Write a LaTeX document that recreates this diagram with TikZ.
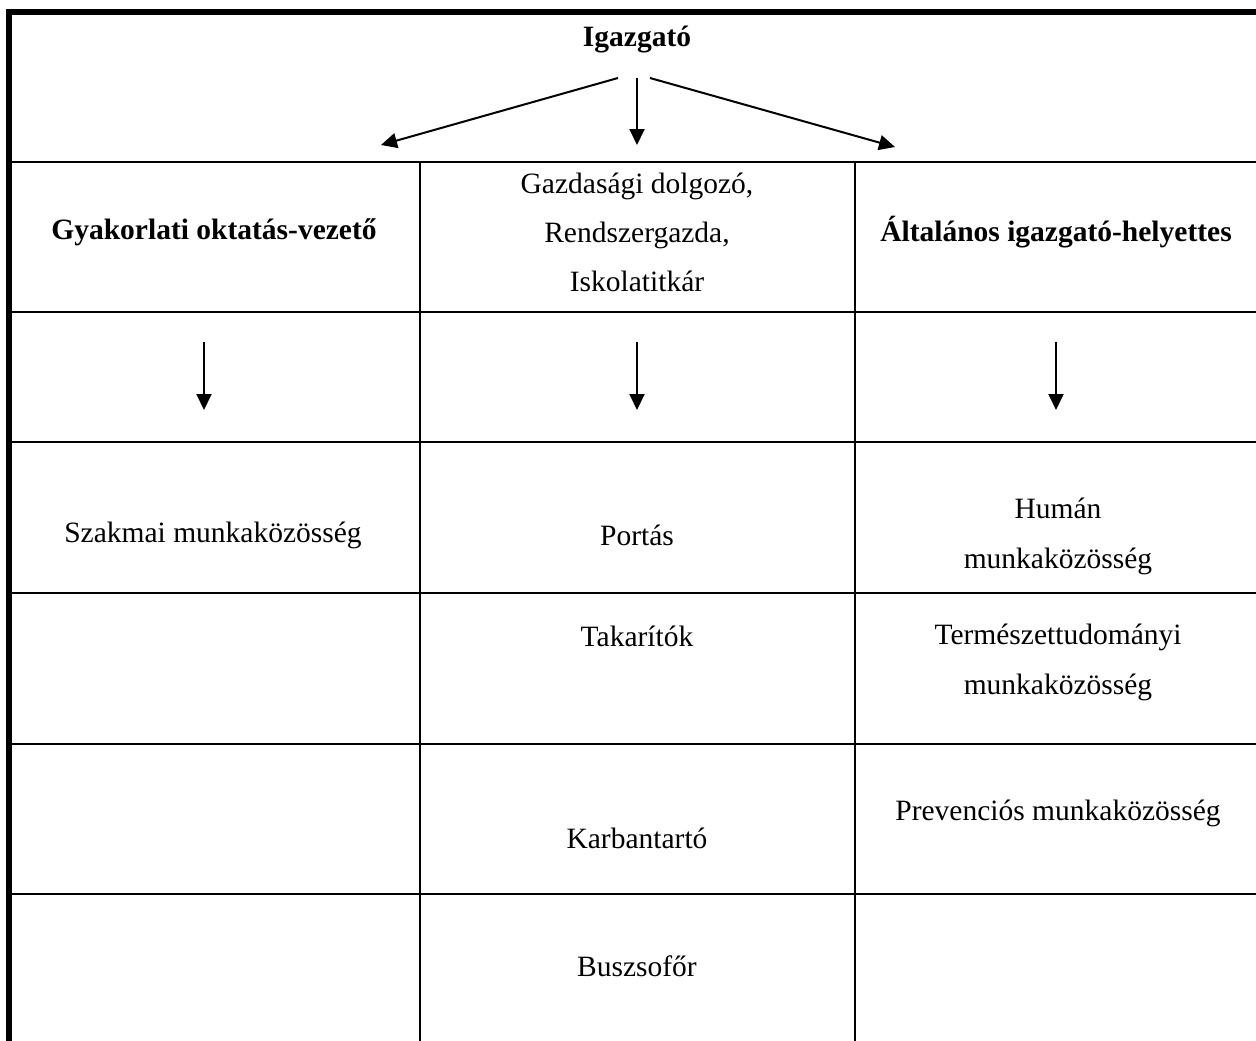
\documentclass[tikz,border=0pt]{standalone}
\usepackage{fontspec}
\setmainfont{Liberation Serif}
\usetikzlibrary{arrows.meta}

\begin{document}
\begin{tikzpicture}[x=1pt, y=-1pt, >={Triangle[length=16pt, width=15pt]}, line width=2pt, every node/.style={font=\fontsize{29.5}{50}\selectfont, align=center, inner sep=0pt}, head/.style={font=\fontsize{29.5}{50}\selectfont\bfseries}]
	\useasboundingbox (0,0) rectangle (1256,1041);

	% table frame
	\draw[line width=6pt] (9,1041) -- (9,12) -- (1256,12);
	\draw (12,162) -- (1256,162);
	\draw (12,312) -- (1256,312);
	\draw (12,442) -- (1256,442);
	\draw (12,593) -- (1256,593);
	\draw (12,744) -- (1256,744);
	\draw (12,894) -- (1256,894);
	\draw (420,162) -- (420,1041);
	\draw (855,162) -- (855,1041);

	\node[head] (boss) at (637,40) {Igazgató};
	\node[head] (practice) at (214,232) {Gyakorlati oktatás-vezető};
	\node[font=\fontsize{29.5}{49}\selectfont] (econ) at (637,232) {Gazdasági dolgozó,\\Rendszergazda,\\Iskolatitkár};
	\node[head] (deputy) at (1056,232) {Általános igazgató-helyettes};
	\node (trade) at (213,535) {Szakmai munkaközösség};
	\node (porter) at (637,535) {Portás};
	\node (human) at (1058,536) {Humán\\munkaközösség};
	\node (cleaner) at (637,636) {Takarítók};
	\node (science) at (1058,662) {Természettudományi\\munkaközösség};
	\node (keeper) at (637,838) {Karbantartó};
	\node (prevent) at (1058,813) {Prevenciós munkaközösség};
	\node (driver) at (637,966) {Buszsofőr};

	\coordinate (bossL) at (618,78);
	\coordinate (bossM) at (637,78);
	\coordinate (bossR) at (650,78);
	\coordinate (tipL) at (381,145);
	\coordinate (tipM) at (637,145);
	\coordinate (tipR) at (895,147);
	\coordinate (down1) at (204,342);
	\coordinate (down2) at (637,342);
	\coordinate (down3) at (1056,342);
	\coordinate (end1) at (204,410);
	\coordinate (end2) at (637,410);
	\coordinate (end3) at (1056,410);

	\draw[->] (bossL) -- (tipL);
	\draw[->] (bossM) -- (tipM);
	\draw[->] (bossR) -- (tipR);
	\draw[->] (down1) -- (end1);
	\draw[->] (down2) -- (end2);
	\draw[->] (down3) -- (end3);
\end{tikzpicture}
\end{document}
